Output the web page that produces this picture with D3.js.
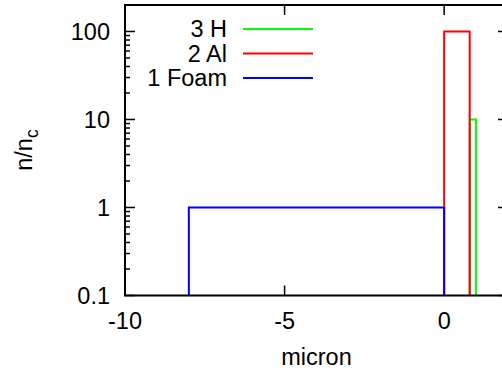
<!DOCTYPE html>
<html>
<head>
<meta charset="utf-8">
<script src="https://cdn.jsdelivr.net/npm/d3@7"></script>
<style>
  html, body { margin: 0; padding: 0; background: #fff; }
  svg { display: block; }
  text { font-family: "Liberation Sans", Arial, sans-serif; fill: #000; }
</style>
</head>
<body>
<svg id="chart" width="502" height="374"></svg>
<script>
// Density profile of the target layers (n/n_c vs position in micron)
const layerNames  = ["3 H", "2 Al", "1 Foam"];
const layerStart  = [0.8, 0.0, -8.0];
const layerEnd    = [1.0, 0.8, 0.0];
const layerDensity = [10, 100, 1];
const layerColors = ["#00ff00", "#ff0000", "#0000ff"];

const xTicks = [-10, -5, 0];
const yTicks = [0.1, 1, 10, 100];
const xDomain = [-10, 2];
const yDomain = [0.1, 200];

const svg = d3.select("#chart");
const plotLeft = 125, plotRight = 508, plotTop = 5, plotBottom = 295.5;

const x = d3.scaleLinear().domain(xDomain).range([plotLeft, plotRight]);
const y = d3.scaleLog().domain(yDomain).range([plotBottom, plotTop]);

const fontSize = 23.5;

// Minor ticks for the log axis (2..9 in each decade)
const minorY = [];
for (let d = 0.1; d < 200; d *= 10) {
  for (let k = 2; k <= 9; k++) {
    const v = +(d * k).toPrecision(3);
    if (v < yDomain[1]) minorY.push(v);
  }
}

const tickG = svg.append("g").attr("stroke", "#000").attr("stroke-width", 1.5);
// left / right major and minor ticks
yTicks.forEach(v => {
  tickG.append("line").attr("x1", plotLeft).attr("x2", plotLeft + 10).attr("y1", y(v)).attr("y2", y(v));
  tickG.append("line").attr("x1", plotRight).attr("x2", plotRight - 10).attr("y1", y(v)).attr("y2", y(v));
});
minorY.forEach(v => {
  tickG.append("line").attr("x1", plotLeft).attr("x2", plotLeft + 5).attr("y1", y(v)).attr("y2", y(v));
  tickG.append("line").attr("x1", plotRight).attr("x2", plotRight - 5).attr("y1", y(v)).attr("y2", y(v));
});
// bottom / top ticks
xTicks.forEach(v => {
  tickG.append("line").attr("x1", x(v)).attr("x2", x(v)).attr("y1", plotBottom).attr("y2", plotBottom - 10);
  tickG.append("line").attr("x1", x(v)).attr("x2", x(v)).attr("y1", plotTop).attr("y2", plotTop + 10);
});

// tick labels
svg.append("g").selectAll("text").data(yTicks).join("text")
  .attr("x", plotLeft - 15).attr("y", d => y(d))
  .attr("dy", "0.36em")
  .attr("text-anchor", "end")
  .attr("font-size", fontSize)
  .text(d => d3.format("~g")(d));

svg.append("g").selectAll("text").data(xTicks).join("text")
  .attr("x", d => x(d)).attr("y", 329)
  .attr("text-anchor", "middle")
  .attr("font-size", fontSize)
  .text(d => d);

// axis titles
svg.append("text")
  .attr("x", (plotLeft + plotRight) / 2).attr("y", 365)
  .attr("text-anchor", "middle")
  .attr("font-size", fontSize)
  .text("micron");

const yl = svg.append("text")
  .attr("transform", "translate(32,150) rotate(-90)")
  .attr("text-anchor", "middle")
  .attr("font-size", fontSize);
yl.append("tspan").text("n/n");
yl.append("tspan").attr("font-size", fontSize * 0.75).attr("dy", 6).text("c");

// layer step profiles, drawn in order H, Al, Foam
const line = d3.line().x(d => x(d[0])).y(d => y(d[1]));
const plot = svg.append("g");
layerNames.forEach((name, i) => {
  const pts = [
    [layerStart[i], yDomain[0]],
    [layerStart[i], layerDensity[i]],
    [layerEnd[i], layerDensity[i]],
    [layerEnd[i], yDomain[0]]
  ];
  plot.append("path")
    .attr("d", line(pts))
    .attr("fill", "none")
    .attr("stroke", layerColors[i])
    .attr("stroke-width", 2);
});

// frame
svg.append("rect")
  .attr("x", plotLeft).attr("y", plotTop)
  .attr("width", plotRight - plotLeft).attr("height", plotBottom - plotTop)
  .attr("fill", "none").attr("stroke", "#000").attr("stroke-width", 2);

// legend
const legY = [29, 53.5, 78];
const leg = svg.append("g");
layerNames.forEach((name, i) => {
  leg.append("text")
    .attr("x", 227).attr("y", legY[i])
    .attr("dy", "0.36em")
    .attr("text-anchor", "end")
    .attr("font-size", fontSize)
    .text(name);
  leg.append("line")
    .attr("x1", 243).attr("x2", 313)
    .attr("y1", legY[i]).attr("y2", legY[i])
    .attr("stroke", layerColors[i]).attr("stroke-width", 2);
});
</script>
</body>
</html>
